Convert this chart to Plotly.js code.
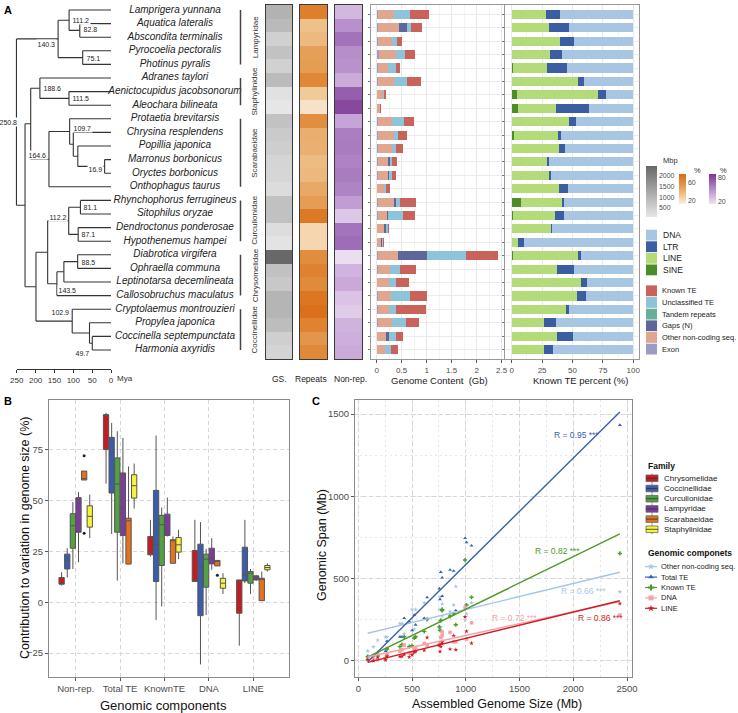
<!DOCTYPE html>
<html><head><meta charset="utf-8">
<script src="https://cdn.plot.ly/plotly-3.0.1.min.js"></script>
<style>html,body{margin:0;padding:0;background:#fff}#chart{width:738px;height:713px}</style>
</head><body><div id="chart"></div>
<script>
// ================= DATA =================
const species = ['Lamprigera yunnana','Aquatica lateralis','Abscondita terminalis','Pyrocoelia pectoralis','Photinus pyralis','Adranes taylori','Aenictocupidus jacobsonorum','Aleochara bilineata','Protaetia brevitarsis','Chrysina resplendens','Popillia japonica','Marronus borbonicus','Oryctes borbonicus','Onthophagus taurus','Rhynchophorus ferrugineus','Sitophilus oryzae','Dendroctonus ponderosae','Hypothenemus hampei','Diabrotica virgifera','Ophraella communa','Leptinotarsa decemlineata','Callosobruchus maculatus','Cryptolaemus montrouzieri','Propylea japonica','Coccinella septempunctata','Harmonia axyridis'];
const familyNamesA = ['Lampyridae','Staphylinidae','Scarabaeidae','Curculionidae','Chrysomelidae','Coccinellidae'];
const familyFirstRow = [1,6,9,15,19,23];
const familyLastRow = [5,8,14,18,22,26];

// Tree: [age (Mya), show label, children]; leaves are species names
const tree = [250.8, true, [
  [140.3, true, [
    [111.2, true, ['Lamprigera yunnana', [82.8, true, ['Aquatica lateralis','Abscondita terminalis']]]],
    [75.1, true, ['Pyrocoelia pectoralis','Photinus pyralis']]
  ]],
  [228, false, [
    [213, false, [
      [188.6, true, ['Adranes taylori', [111.5, true, ['Aenictocupidus jacobsonorum','Aleochara bilineata']]]],
      [164.6, true, [
        [109.7, true, ['Protaetia brevitarsis', [100, false, ['Chrysina resplendens', [88, false, ['Popillia japonica', [16.9, true, ['Marronus borbonicus','Oryctes borbonicus']]]]]]]],
        'Onthophagus taurus'
      ]]
    ]],
    [199, false, [
      [168, false, [
        [112.2, true, [
          [81.1, true, ['Rhynchophorus ferrugineus','Sitophilus oryzae']],
          [87.1, true, ['Dendroctonus ponderosae','Hypothenemus hampei']]
        ]],
        [143.5, true, [
          [125, false, [[88.5, true, ['Diabrotica virgifera','Ophraella communa']], 'Leptinotarsa decemlineata']],
          'Callosobruchus maculatus'
        ]]
      ]],
      [102.9, true, ['Cryptolaemus montrouzieri', [57, false, ['Propylea japonica', [49.7, true, ['Coccinella septempunctata','Harmonia axyridis']]]]]]
    ]]
  ]]
]];
const timeTicks = [250,200,150,100,50,0];

// Heatmap columns
const gsMb = [1053,907,500,760,473,887,180,87,753,613,533,407,387,267,780,767,253,140,2433,780,640,1007,993,853,520,427];
const repeatsPct = [66.5,33.8,37.2,49.2,50.7,61.7,29.4,18,58.4,42.4,41.3,36,38,45,50.5,70.4,23.7,23.6,58.9,64.9,60.3,71.5,75.1,64.8,53.8,60.9];
const nonrepPct = [33.5,50,62.6,50.9,49.3,38.3,70.6,80,41.6,57.6,58.7,55.8,58.7,55,44.5,27,62,65,17.3,35,39.5,28.5,24.9,35.2,37.1,39.1];

// Genome content (Gb)
const exonGb    = [.02,.02,.02,.047,.02,.02,.013,.013,.02,.02,.02,.02,.02,.013,.033,.02,.013,.013,.02,.033,.013,.033,.02,.033,.013,.013];
const otherGb   = [.333,.433,.293,.34,.213,.32,.113,.047,.293,.333,.293,.207,.207,.133,.313,.187,.133,.073,.40,.24,.24,.253,.227,.267,.18,.153];
const gapsGb    = [0,.147,0,0,0,0,0,0,0,0,0,.033,.013,0,.04,.02,.047,.02,.58,0,0,0,0,0,.047,0];
const tandemGb  = [0,0,0,0,0,0,0,0,0,0,0,0,0,0,0,0,0,0,0,0,0,0,0,0,0,0];
const unclassGb = [.313,.087,.093,.187,.153,.26,.02,0,.233,.08,.073,.047,.06,.047,.087,.293,.04,.02,.78,.193,.133,.38,.133,.28,.14,.113];
const knownGb   = [.387,.22,.093,.187,.087,.287,.033,.027,.207,.18,.147,.1,.087,.073,.307,.247,.02,.013,.653,.313,.253,.34,.613,.273,.14,.147];

// Known TE percent
const sinePct = [0,0,0,0.5,1.1,0.5,4.4,5.2,0,1.9,0.5,0.5,0,0,7.7,0.8,0,0,0.8,0,0.5,0.5,0.5,0,0,0];
const linePct = [27.9,30.7,39.7,31.0,27.7,53.7,66.8,31.0,47.1,35.9,38.7,28.8,30.7,39.2,34.0,35.1,32.1,4.9,53.4,37.5,56.5,53.2,43.8,26.3,37.3,26.3];
const ltrPct  = [12.1,16.2,11.8,9.9,16.4,5.5,6.3,27.7,5.8,2.5,4.7,1.6,1.4,7.1,1.1,6.8,1.4,5.2,3.0,13.4,4.9,7.1,2.7,9.9,13.4,7.4];
const dnaPct  = [60.0,53.1,48.5,58.6,54.8,40.3,22.5,36.1,47.1,59.7,56.1,69.1,67.9,53.7,57.2,57.3,66.5,89.9,42.8,49.1,38.1,39.2,53.0,63.8,49.3,66.3];

// Panel B: box statistics, rows = families, cols = components
const components = ['Non-rep.','Total TE','KnownTE','DNA','LINE'];
const boxFamilies = ['Chrysomelidae','Coccinellidae','Curculionidae','Lampyridae','Scarabaeidae','Staphylinidae'];
const boxLower = [[8.2,58.4,22.5,10.2,-21.4],[12.2,33.6,-8.7,-30.6,9.4],[16.4,10.7,-2.1,-6.3,4.1],[19.7,19.2,32.4,16.0,10.5],[60.2,18.8,19.2,17.9,0.8],[31.6,46.1,21.2,4.1,15.1]];
const boxQ1    = [[8.9,75.2,23.4,10.2,-5.4],[16.4,53.8,10.2,-6.6,10.5],[26.6,34.5,18.1,7.4,9.4],[34.5,32.9,32.9,18.9,11.0],[60.2,18.8,19.2,17.9,0.8],[37.0,51.3,24.7,6.9,16.0]];
const boxMed   = [[9.4,91.9,24.7,10.5,10.9],[20.6,74.0,28.6,17.6,13.5],[37.7,58.2,38.2,21.2,14.3],[48.8,46.4,34.9,21.7,12.2],[60.9,40.1,30.3,20.4,11.3],[42.3,57.4,28.3,9.4,17.1]];
const boxQ3    = [[12.2,92.4,32.4,25.5,11.0],[23.7,81.2,55.1,28.6,27.1],[43.6,71.1,42.8,23.7,15.1],[51.5,63.7,43.4,26.6,13.0],[64.6,41.4,30.8,20.6,11.8],[47.5,62.8,31.9,11.8,18.1]];
const boxUpper = [[14.8,93.3,40.6,40.6,11.0],[26.6,88.3,82.1,39.5,40.6],[49.3,84.2,46.7,26.3,16.4],[54.3,80.9,51.6,31.6,13.5],[64.6,66.9,32.4,20.6,15.1],[53.0,68.3,35.7,14.3,19.2]];
const outlierFamily = ['Scarabaeidae','Scarabaeidae','Scarabaeidae'];
const outlierComponent = ['Non-rep.','Non-rep.','DNA'];
const outlierValue = [72.2,34.0,13.3];

// Panel C (Mb), x = gsMb
const compNames = ['Other non-coding seq.','Total TE','Known TE','DNA','LINE'];
const otherMb   = [353,453,313,387,233,340,126,60,313,353,313,227,227,146,346,207,146,86,420,273,253,286,247,300,193,166];
const totalTEMb = [700,307,186,374,240,547,53,27,440,260,220,147,147,120,394,540,60,33,1433,506,386,720,746,553,280,260];
const knownTEMb = [387,220,93,187,87,287,33,27,207,180,147,100,87,73,307,247,20,13,653,313,253,340,613,273,140,147];
const dnaMb     = [232,117,45,110,48,116,7,10,97,107,82,69,59,39,176,142,13,12,279,154,96,133,325,174,69,97];
const lineMb    = [108,68,37,58,24,154,22,8,97,65,57,29,27,29,104,87,6,1,349,117,143,181,268,72,52,39];
const rLabels = ['R = 0.66 ***','R = 0.95 ***','R = 0.82 ***','R = 0.72 ***','R = 0.86 ***'];

// ================= DRAWING =================
const W = 738, H = 713;
const fx = p => p / W, fy = p => 1 - p / H;
const FONT = 'Liberation Sans, Arial, sans-serif';
const rowIdx = species.map((_, i) => i + 1);
const data = [], shapes = [], annotations = [];
const TICKC = '#4D4D4D';

// ---- tree ----
const TIP_PX = 111, PXMYA = 0.377;
const treeX = [], treeY = [], nodeLabs = [];
function lay(n) {
  if (typeof n === 'string') return {x: 0, y: species.indexOf(n) + 1};
  const [age, show, kids] = n;
  const pts = kids.map(lay);
  const ys = pts.map(p => p.y);
  const lo = Math.min(...ys), hi = Math.max(...ys);
  treeX.push(age, age, null); treeY.push(lo, hi, null);
  pts.forEach(p => { treeX.push(age, p.x, null); treeY.push(p.y, p.y, null); });
  const y = (lo + hi) / 2;
  if (show) nodeLabs.push({age, y});
  return {x: age, y};
}
const rootPos = lay(tree);
treeX.push(rootPos.x + 20, rootPos.x, null); treeY.push(rootPos.y, rootPos.y, null);
data.push({type:'scatter', mode:'lines', x:treeX, y:treeY, xaxis:'x', yaxis:'y', line:{color:'#333', width:1.1}, hoverinfo:'skip'});
const SPX = (TIP_PX - 175) / PXMYA;
data.push({type:'scatter', mode:'text', x:species.map(() => SPX), y:rowIdx, text:species.map(s => '<i>' + s + '</i>'),
  textposition:'middle center', textfont:{size:10, color:'#222', family:FONT}, xaxis:'x', yaxis:'y', cliponaxis:false, hoverinfo:'skip'});
const labPlace = {250.8:['center',0,-8], 140.3:['right',-5,-1], 164.6:['right',4,-1], 16.9:['right',-2.5,-1], 112.2:['right',3.3,-1],
  102.9:['right',9,-1], 49.7:['right',-10,-1], 143.5:['left',-6,0], 109.7:['left',3.5,2], 82.8:['left',1,2]};
nodeLabs.forEach(n => {
  const pl = labPlace[n.age] || ['left', 0, 2];
  annotations.push({xref:'x', yref:'y', x:n.age, y:n.y, text:n.age.toFixed(1), showarrow:false, xanchor:pl[0], yanchor:'middle',
    yshift:pl[1], xshift:pl[2], bgcolor:'white', borderpad:0.5, font:{size:7, color:'#222'}});
});
data.push({type:'scatter', mode:'markers', x:timeTicks, y:timeTicks.map(() => 0), xaxis:'x2', yaxis:'y2', marker:{opacity:0}, hoverinfo:'skip'});
annotations.push({xref:'x10', yref:'y10', x:115, y:378, text:'Mya', showarrow:false, xanchor:'left', font:{size:8, color:'#333'}});

// family bars and labels
familyNamesA.forEach((f, i) => {
  shapes.push({type:'line', xref:'x10', yref:'y', x0:240.5, x1:240.5, y0:familyFirstRow[i], y1:familyLastRow[i], line:{color:'#444', width:1.5}});
  annotations.push({xref:'x10', yref:'y', x:255, y:(familyFirstRow[i] + familyLastRow[i]) / 2, text:f, textangle:-90, showarrow:false,
    font:{size:8, color:'#333'}});
});

// ---- heatmaps ----
function heat(z, xa, ya, scale, zmin, zmax, cb) {
  return {type:'heatmap', z:z.map(v => [v]), x:[0], y:rowIdx, xaxis:xa, yaxis:ya, colorscale:scale, zmin, zmax, colorbar:cb, hoverinfo:'skip'};
}
const cbBase = {outlinewidth:0, ticks:'', xpad:0, ypad:0, lenmode:'pixels', xanchor:'left', yanchor:'top', tickfont:{size:7, color:TICKC}};
data.push(heat(gsMb, 'x3', 'y3', [[0,'#E6E6E6'],[1,'#686868']], 87, 2433,
  Object.assign({}, cbBase, {x:fx(646), y:fy(166), len:51, thickness:11, tickvals:[500,1000,1500,2000]})));
data.push(heat(repeatsPct, 'x4', 'y4', [[0,'#FCEEDF'],[0.3,'#F0C591'],[0.6,'#E49A50'],[1,'#D96B12']], 12, 78,
  Object.assign({}, cbBase, {x:fx(679), y:fy(174), len:30, thickness:7, tickvals:[20,60]})));
data.push(heat(nonrepPct, 'x5', 'y5', [[0,'#EEE4F2'],[0.35,'#C8A6D8'],[0.65,'#A273BB'],[1,'#7A3591']], 15, 88,
  Object.assign({}, cbBase, {x:fx(709), y:fy(174), len:30, thickness:7, tickvals:[20,80]})));
annotations.push({xref:'x10', yref:'y10', x:661, y:160, text:'Mbp', showarrow:false, xanchor:'left', font:{size:7.5, color:'#333'}});
annotations.push({xref:'x10', yref:'y10', x:692, y:170, text:'%', showarrow:false, xanchor:'left', font:{size:7.5, color:'#333'}});
annotations.push({xref:'x10', yref:'y10', x:718, y:170, text:'%', showarrow:false, xanchor:'left', font:{size:7.5, color:'#333'}});
[['GS.',279],['Repeats',311],['Non-rep.',350]].forEach(([t, p]) =>
  annotations.push({xref:'x10', yref:'y10', x:p, y:379, text:t, showarrow:false, font:{size:8.5, color:'#222'}}));

// ---- genome content bars ----
const gcColors = {exon:'#9A9CC6', other:'#E0A690', gaps:'#5F6699', tandem:'#6AAE98', unclass:'#8EC4DA', known:'#C9625A'};
[[exonGb,'exon'],[otherGb,'other'],[gapsGb,'gaps'],[tandemGb,'tandem'],[unclassGb,'unclass'],[knownGb,'known']].forEach(([v, k]) =>
  data.push({type:'bar', orientation:'h', y:rowIdx, x:v, xaxis:'x6', yaxis:'y6', width:0.68, marker:{color:gcColors[k], line:{width:0}}, hoverinfo:'skip'}));
const teColors = {SINE:'#4E8C2A', LINE:'#B4DB7A', LTR:'#3B5EA3', DNA:'#A8C5E1'};
[[sinePct,'SINE'],[linePct,'LINE'],[ltrPct,'LTR'],[dnaPct,'DNA']].forEach(([v, k]) =>
  data.push({type:'bar', orientation:'h', y:rowIdx, x:v, xaxis:'x7', yaxis:'y7', width:0.68, marker:{color:teColors[k], line:{width:0}}, hoverinfo:'skip'}));
annotations.push({xref:'x10', yref:'y10', x:439, y:380, text:'Genome Content  (Gb)', showarrow:false, font:{size:9.5, color:'#222'}});
annotations.push({xref:'x10', yref:'y10', x:580, y:380, text:'Known TE percent (%)', showarrow:false, font:{size:9.5, color:'#222'}});

// legends panel A
[['DNA',teColors.DNA],['LTR',teColors.LTR],['LINE',teColors.LINE],['SINE',teColors.SINE]].forEach(([t, c], i) => {
  const y0 = 229.3 + i * 11.6;
  shapes.push({type:'rect', xref:'x10', yref:'y10', x0:646, x1:657, y0:y0 + 0.4, y1:y0 + 11.2, fillcolor:c, line:{width:0}});
  annotations.push({xref:'x10', yref:'y10', x:661, y:y0 + 5.8, text:t, showarrow:false, xanchor:'left', font:{size:8.5, color:'#222'}});
});
[['Known TE',gcColors.known],['Unclassified TE',gcColors.unclass],['Tandem repeats',gcColors.tandem],['Gaps (N)',gcColors.gaps],['Other non-coding seq.',gcColors.other],['Exon',gcColors.exon]].forEach(([t, c], i) => {
  const y0 = 285 + i * 11.66;
  shapes.push({type:'rect', xref:'x10', yref:'y10', x0:646, x1:657, y0:y0 + 0.4, y1:y0 + 11.2, fillcolor:c, line:{width:0}});
  annotations.push({xref:'x10', yref:'y10', x:660, y:y0 + 5.8, text:t, showarrow:false, xanchor:'left', font:{size:7.5, color:'#222'}});
});

// ---- panel B ----
const famColors = ['#C71B22','#3A5CAA','#52A142','#7D3B9C','#E5711E','#F7F33A'];
const BOXGAP = 0.24, BOXGROUPGAP = 0.06;
const catX = components.map((_, i) => i + 1);
boxFamilies.forEach((f, i) => {
  data.push({type:'box', name:f, x:catX, q1:boxQ1[i], median:boxMed[i], q3:boxQ3[i], lowerfence:boxLower[i], upperfence:boxUpper[i],
    xaxis:'x8', yaxis:'y8', fillcolor:famColors[i], line:{color:'#555', width:1}, whiskerwidth:0, boxpoints:false, hoverinfo:'skip'});
});
const slot = (1 - BOXGAP) / boxFamilies.length;
data.push({type:'scatter', mode:'markers', xaxis:'x8', yaxis:'y8', hoverinfo:'skip',
  x:outlierValue.map((_, k) => components.indexOf(outlierComponent[k]) + 1 - (1 - BOXGAP) / 2 + slot * (boxFamilies.indexOf(outlierFamily[k]) + 0.5)),
  y:outlierValue, marker:{size:3, color:'#222'}});
annotations.push({xref:'x10', yref:'y10', x:25, y:538, text:'Contribution to variation in genome size (%)', textangle:-90, showarrow:false, font:{size:12.5, color:'#111'}});
annotations.push({xref:'x10', yref:'y10', x:163, y:705, text:'Genomic components', showarrow:false, font:{size:13, color:'#111'}});

// ---- panel C ----
const compColors = ['#A3C6E8','#3760B0','#4C9A2A','#F2A2A8','#D01C24'];
const compSymbols = ['star','triangle-up','cross','square','star'];
const compData = [otherMb, totalTEMb, knownTEMb, dnaMb, lineMb];
function lm(xs, ys) {
  const n = xs.length, mx = xs.reduce((a, b) => a + b) / n, my = ys.reduce((a, b) => a + b) / n;
  let sxy = 0, sxx = 0;
  xs.forEach((x, i) => { sxy += (x - mx) * (ys[i] - my); sxx += (x - mx) * (x - mx); });
  const b = sxy / sxx; return [my - b * mx, b];
}
const gxMin = Math.min(...gsMb), gxMax = Math.max(...gsMb);
compData.forEach((ys, i) => {
  data.push({type:'scatter', mode:'markers', x:gsMb, y:ys, xaxis:'x9', yaxis:'y9', marker:{symbol:compSymbols[i], size:3.5, color:compColors[i]}, hoverinfo:'skip'});
});
compData.forEach((ys, i) => {
  const [a, b] = lm(gsMb, ys);
  data.push({type:'scatter', mode:'lines', x:[gxMin, gxMax], y:[a + b * gxMin, a + b * gxMax], xaxis:'x9', yaxis:'y9', line:{color:compColors[i], width:1.4}, hoverinfo:'skip'});
});
const rPos = [[2098,425],[2033,1373],[1851,668],[1451,261],[2256,261]];
rLabels.forEach((t, i) => annotations.push({xref:'x9', yref:'y9', x:rPos[i][0], y:rPos[i][1], text:t, showarrow:false, font:{size:8.5, color:compColors[i]}}));
annotations.push({xref:'x10', yref:'y10', x:322, y:545, text:'Genomic Span (Mb)', textangle:-90, showarrow:false, font:{size:12.5, color:'#111'}});
annotations.push({xref:'x10', yref:'y10', x:497, y:704, text:'Assembled Genome Size (Mb)', showarrow:false, font:{size:12.5, color:'#111'}});

// panel C legends
annotations.push({xref:'x10', yref:'y10', x:646, y:466, text:'<b>Family</b>', showarrow:false, xanchor:'left', font:{size:8.5, color:'#111'}});
boxFamilies.forEach((f, i) => {
  const yc = 478.3 + i * 10.2;
  shapes.push({type:'line', xref:'x10', yref:'y10', x0:652, x1:652, y0:yc - 4.8, y1:yc + 4.8, line:{color:'#666', width:0.8}});
  shapes.push({type:'rect', xref:'x10', yref:'y10', x0:646, x1:658, y0:yc - 3.3, y1:yc + 3.3, fillcolor:famColors[i], line:{color:'#666', width:0.8}});
  shapes.push({type:'line', xref:'x10', yref:'y10', x0:646, x1:658, y0:yc, y1:yc, line:{color:'#333', width:0.8}});
  annotations.push({xref:'x10', yref:'y10', x:662, y:yc, text:f, showarrow:false, xanchor:'left', font:{size:8, color:'#222'}});
});
annotations.push({xref:'x10', yref:'y10', x:646, y:553, text:'<b>Genomic componets</b>', showarrow:false, xanchor:'left', font:{size:8.5, color:'#111'}});
const legY = compNames.map((_, i) => 566.7 + i * 10.4);
compNames.forEach((c, i) => {
  shapes.push({type:'line', xref:'x10', yref:'y10', x0:645, x1:657, y0:legY[i], y1:legY[i], line:{color:compColors[i], width:1.2}});
  annotations.push({xref:'x10', yref:'y10', x:659, y:legY[i], text:c, showarrow:false, xanchor:'left', font:{size:7.5, color:'#222'}});
});
data.push({type:'scatter', mode:'markers', x:legY.map(() => 651), y:legY, xaxis:'x10', yaxis:'y10',
  marker:{symbol:compSymbols, size:5, color:compColors}, hoverinfo:'skip'});

// panel letters
[['A',8,10],['B',8,401],['C',316,401]].forEach(([t, x, y]) =>
  annotations.push({xref:'x10', yref:'y10', x, y, text:'<b>' + t + '</b>', showarrow:false, font:{size:11, color:'#000'}}));
annotations.forEach(a => { if (!a.xanchor) a.xanchor = 'center'; if (!a.yanchor) a.yanchor = 'middle'; });

// ================= LAYOUT =================
const none = {visible:false, fixedrange:true};
const rowsA = [fy(359), fy(5)];
const boxAxis = {showline:true, mirror:true, linecolor:'#3A3A3A', linewidth:1, ticks:'', showticklabels:false, showgrid:false, zeroline:false};
const barX = (dom, range, tv, minorD) => ({domain:dom, range, tickvals:tv, ticks:'outside', ticklen:3, tickcolor:'#555',
  tickfont:{size:8, color:TICKC}, showgrid:true, gridcolor:'#E8E8E8', minor:{tick0:0, dtick:minorD, showgrid:true, gridcolor:'#F4F4F4'},
  showline:true, mirror:true, linecolor:'#999', zeroline:false});
const barY = (anchor) => ({domain:rowsA, range:[26.7, 0.3], tickvals:rowIdx, showticklabels:false, ticks:'outside', ticklen:2, tickcolor:'#777',
  showgrid:true, gridcolor:'#EBEBEB', showline:true, mirror:true, linecolor:'#999', zeroline:false, anchor});
const gridDash = {showgrid:true, gridcolor:'#D6D6D6', griddash:'4px,3px', gridwidth:1, zeroline:false, showline:true, mirror:true,
  linecolor:'#8A8A8A', ticks:'outside', ticklen:3, tickcolor:'#555', tickfont:{size:9.5, color:TICKC}};
const minorC = {tick0:0, dtick:250, showgrid:true, gridcolor:'#E6E6E6', griddash:'2px,3px'};

const layout = {
  width:W, height:H, margin:{l:0, r:0, t:0, b:0}, paper_bgcolor:'white', plot_bgcolor:'rgba(0,0,0,0)',
  font:{family:FONT, size:9, color:'#222'}, showlegend:false, barmode:'stack',
  boxmode:'group', boxgap:BOXGAP, boxgroupgap:BOXGROUPGAP,
  xaxis:Object.assign({}, none, {domain:[0, fx(262)], range:[TIP_PX / PXMYA, (TIP_PX - 262) / PXMYA], anchor:'y'}),
  yaxis:Object.assign({}, none, {domain:[fy(356.8), fy(3.2)], range:[26.5, 0.5], anchor:'x'}),
  xaxis2:{domain:[fx(TIP_PX - 250 * PXMYA), fx(TIP_PX)], range:[250, 0], tickvals:timeTicks, ticks:'outside', ticklen:3, tickcolor:'#333',
    showline:true, linecolor:'#333', linewidth:1, showgrid:false, zeroline:false, tickfont:{size:8, color:'#333'}, anchor:'y2', fixedrange:true},
  yaxis2:Object.assign({}, none, {domain:[fy(369), fy(368)], range:[0, 1], anchor:'x2'}),
  xaxis3:Object.assign({}, boxAxis, {domain:[fx(266), fx(292)], range:[-0.5, 0.5], anchor:'y3'}),
  yaxis3:Object.assign({}, boxAxis, {domain:rowsA, range:[26.5, 0.5], anchor:'x3'}),
  xaxis4:Object.assign({}, boxAxis, {domain:[fx(300), fx(327)], range:[-0.5, 0.5], anchor:'y4'}),
  yaxis4:Object.assign({}, boxAxis, {domain:rowsA, range:[26.5, 0.5], anchor:'x4'}),
  xaxis5:Object.assign({}, boxAxis, {domain:[fx(335), fx(362)], range:[-0.5, 0.5], anchor:'y5'}),
  yaxis5:Object.assign({}, boxAxis, {domain:rowsA, range:[26.5, 0.5], anchor:'x5'}),
  xaxis6:Object.assign(barX([fx(371), fx(504)], [-0.113, 2.547], [0,0.5,1,1.5,2,2.5], 0.25), {anchor:'y6', ticktext:['0','0.5','1','1.5','2','2.5']}),
  yaxis6:barY('x6'),
  xaxis7:Object.assign(barX([fx(505), fx(639)], [-5.5, 104.7], [0,25,50,75,100], 12.5), {anchor:'y7'}),
  yaxis7:barY('x7'),
  xaxis8:Object.assign({}, gridDash, {domain:[fx(49), fx(289.3)], range:[0.399, 5.81], tickvals:catX, ticktext:components, anchor:'y8'}),
  yaxis8:Object.assign({}, gridDash, {domain:[fy(677), fy(400)], range:[-36.8, 99.6], tickvals:[-25,0,25,50,75], anchor:'x8'}),
  xaxis9:Object.assign({}, gridDash, {domain:[fx(355), fx(632)], range:[-31, 2546], tickvals:[0,500,1000,1500,2000,2500], anchor:'y9', minor:minorC}),
  yaxis9:Object.assign({}, gridDash, {domain:[fy(677), fy(400)], range:[-97.2, 1585], tickvals:[0,500,1000,1500], anchor:'x9', minor:minorC}),
  xaxis10:Object.assign({}, none, {domain:[0, 1], range:[0, W], anchor:'y10'}),
  yaxis10:Object.assign({}, none, {domain:[0, 1], range:[H, 0], anchor:'x10'}),
  shapes, annotations
};
Plotly.newPlot('chart', data, layout, {displayModeBar:false, staticPlot:true});
</script>
</body></html>
